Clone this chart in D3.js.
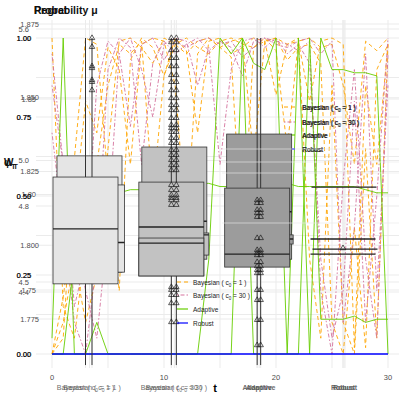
<!DOCTYPE html>
<html>
<head>
<meta charset="utf-8">
<script src="https://cdn.jsdelivr.net/npm/d3@7"></script>
<style>
body { margin: 0; background: #fff; }
svg { font-family: "Liberation Sans", Arial, sans-serif; }
</style>
</head>
<body>
<svg id="chart" width="399" height="399"></svg>
<script>
// ---- data ----
var tSteps = [0,1,2,3,4,5,6,7,8,9,10,11,12,13,14,15,16,17,18,19,20,21,22,23,24,25,26,27,28,29,30];
var methods = ["Bayesian (c0 = 1)", "Bayesian (c0 = 30)", "Adaptive", "Robust"];

// probability traces per run
var bayes1Runs = [
    [0.00,0.05,0.62,1.00,0.98,0.55,0.20,0.93,1.00,0.97,0.88,1.00,0.96,0.70,0.99,1.00,0.95,0.97,1.00,0.99,0.82,0.98,1.00,0.30,0.05,0.85,0.10,0.00,0.65,0.05,0.98],
    [0.00,0.18,0.45,0.80,0.70,0.97,0.90,0.60,0.98,1.00,0.99,0.85,0.40,0.95,1.00,0.97,0.99,1.00,0.62,0.99,1.00,0.93,0.97,0.98,0.92,0.10,0.00,0.40,0.02,0.90,0.98],
    [1.00,0.15,0.05,0.35,0.60,0.85,0.98,0.95,0.99,0.50,0.88,0.98,1.00,0.97,0.95,0.99,1.00,0.98,0.97,1.00,0.96,0.65,0.99,1.00,0.97,0.98,0.85,0.60,0.99,0.96,1.00],
    [0.00,0.10,0.30,0.10,0.25,0.65,0.99,1.00,0.97,0.92,1.00,0.98,0.95,0.99,1.00,0.97,0.94,0.35,0.97,0.99,1.00,0.98,0.99,0.80,0.99,1.00,0.98,0.02,0.85,0.60,0.98]
];
var bayes30Runs = [
    [0.85,0.60,0.40,0.20,0.05,0.40,0.95,1.00,0.90,0.75,0.98,1.00,0.99,0.85,0.97,0.60,0.90,0.99,1.00,0.97,1.00,0.95,0.98,0.92,0.30,0.05,0.20,0.80,0.10,0.50,1.00],
    [0.70,0.40,0.10,0.00,0.30,0.90,1.00,0.97,0.60,0.92,0.99,0.95,0.98,1.00,0.96,0.99,0.97,0.88,0.99,1.00,0.98,0.97,0.99,1.00,0.95,0.99,0.10,0.40,0.95,0.20,0.85],
    [0.95,0.60,0.15,0.30,0.85,0.99,0.95,0.72,0.98,1.00,0.93,0.99,0.97,0.99,1.00,0.98,0.99,0.94,0.97,1.00,0.99,0.98,0.96,0.99,0.20,0.00,0.55,0.90,0.30,0.05,0.95]
];
var adaptiveRuns = [
    [0.05,1.00,0.00,0.00,0.10,0.00,0.00,0.00,0.00,0.00,0.00,0.00,0.00,0.00,0.30,1.00,0.95,1.00,0.00,0.00,0.00,0.00,1.00,0.00,1.00,0.90,0.90,0.89,0.89,0.88,0.00],
    [0.00,0.00,0.30,0.45,0.48,0.50,0.51,0.52,0.52,0.53,0.53,0.53,0.54,0.54,0.54,0.53,0.53,0.54,0.55,0.55,0.55,0.54,0.53,0.53,0.53,0.53,0.53,0.53,0.52,0.51,0.51],
    [0.00,0.00,0.00,0.00,0.00,0.00,0.00,0.00,0.00,0.00,0.00,0.00,0.00,0.00,0.00,0.00,0.00,1.00,0.92,0.90,1.00,0.00,0.00,1.00,0.11,0.11,0.11,0.12,0.10,0.11,0.11]
];
var robustRuns = [
    [0,0,0,0,0,0,0,0,0,0,0,0,0,0,0,0,0,0,0,0,0,0,0,0,0,0,0,0,0,0,0]
];

// box summaries, one row per overlaid layer
var boxStats = [
    {layer: 0, method: "Bayesian (c0 = 1)",  q1: 0.259, med: 0.400, q3: 0.627},
    {layer: 0, method: "Bayesian (c0 = 30)", q1: 0.300, med: 0.420, q3: 0.655},
    {layer: 0, method: "Adaptive",           q1: 0.300, med: 0.450, q3: 0.696},
    {layer: 0, method: "Robust",             q1: 0.528, med: 0.528, q3: 0.528},
    {layer: 2, method: "Bayesian (c0 = 1)",  q1: 0.259, med: 0.353, q3: 0.535},
    {layer: 2, method: "Bayesian (c0 = 30)", q1: 0.313, med: 0.377, q3: 0.383},
    {layer: 2, method: "Adaptive",           q1: 0.348, med: 0.364, q3: 0.377},
    {layer: 2, method: "Robust",             q1: 0.332, med: 0.332, q3: 0.332},
    {layer: 1, method: "Bayesian (c0 = 1)",  q1: 0.222, med: 0.396, q3: 0.560},
    {layer: 1, method: "Bayesian (c0 = 30)", q1: 0.247, med: 0.402, q3: 0.544},
    {layer: 1, method: "Adaptive",           q1: 0.275, med: 0.316, q3: 0.525},
    {layer: 1, method: "Robust",             q1: 0.364, med: 0.364, q3: 0.364},
    {layer: 3, method: "Bayesian (c0 = 30)", q1: 0.247, med: 0.351, q3: 0.367},
    {layer: 3, method: "Robust",             q1: 0.316, med: 0.316, q3: 0.316}
];
var whiskerLo = -0.035, whiskerHi = 1.0;

var outliersBayes1 = [1.00,0.972,0.911,0.905,0.867,0.861,0.835];
var outliersBayes30 = [1.00,0.987,0.962,0.937,0.911,0.883,0.861,0.835,0.810,0.788,0.772,0.747,0.725,0.715,0.703,0.684,0.668,0.646,0.630,0.614,0.598,0.582,0.535,0.519,0.503,0.494,0.487,0.472,0.212,0.203,0.187,0.161,0.101];
var outliersAdaptive = [0.487,0.478,0.456,0.446,0.434,0.367,0.329,0.320,0.313,0.291,0.278,0.266,0.256,0.203,0.171,0.108,0.028];
var outliersRobust = [0.335];

var mainTicks = [0, 0.25, 0.5, 0.75, 1];
var tTicks = [0, 10, 20, 30];
var sideTicksA = [1.775, 1.800, 1.825, 1.850, 1.875];
var sideTicksB = [1.75, 1.80, 1.85];
var sideTicksC = [4.4, 5.0, 5.6];
var sideTicksD = [4.5, 4.8];

// ---- drawing ----
var svg = d3.select("#chart");
var W = 399, H = 399;

var x = d3.scaleLinear().domain([0, 30]).range([52, 388]);
var y = d3.scaleLinear().domain([0, 1]).range([354, 38]);
var yA = d3.scaleLinear().domain([1.775, 1.875]).range([319, 24]);
var yB = d3.scaleLinear().domain([1.75, 1.85]).range([290, 99]);
var yC = d3.scaleLinear().domain([4.4, 5.6]).range([292, 29]);
var yD = d3.scaleLinear().domain([4.5, 4.8]).range([282, 206]);

// one categorical scale per overlaid box layer
var catRanges = [[89.5, 344], [85.5, 343], [92, 345], [85.5, 343]];
var cat = catRanges.map(function(r) {
    return d3.scalePoint().domain(methods).range(r);
});
var boxW = 65;

var colors = {"Bayesian (c0 = 1)": "#FFA500", "Bayesian (c0 = 30)": "#D5739D", "Adaptive": "#66CD00", "Robust": "#0000FF"};
var dashes = {"Bayesian (c0 = 1)": "4,3", "Bayesian (c0 = 30)": "1.5,2,4,2", "Adaptive": null, "Robust": null};
var boxFill = {"Bayesian (c0 = 1)": "#e5e5e5", "Bayesian (c0 = 30)": "#c2c2c2", "Adaptive": "#9c9c9c", "Robust": "#777"};

// grid
var grid = svg.append("g");
var hLines = [];
mainTicks.forEach(function(v) { hLines.push(y(v)); });
[0.125, 0.375, 0.625, 0.875].forEach(function(v) { hLines.push(y(v)); });
sideTicksA.forEach(function(v) { hLines.push(yA(v)); });
sideTicksB.forEach(function(v) { hLines.push(yB(v)); });
sideTicksC.forEach(function(v) { hLines.push(yC(v)); });
sideTicksD.forEach(function(v) { hLines.push(yD(v)); });
grid.selectAll("line.h").data(hLines).enter().append("line")
    .attr("x1", 36).attr("x2", W)
    .attr("y1", function(d) { return d; }).attr("y2", function(d) { return d; })
    .attr("stroke", "#ebebeb").attr("stroke-width", 1);

var vLines = [];
[0, 5, 10, 15, 20, 25, 30].forEach(function(v) { vLines.push(x(v)); });
cat.forEach(function(s) { methods.forEach(function(m) { vLines.push(s(m)); }); });
grid.selectAll("line.v").data(vLines).enter().append("line")
    .attr("x1", function(d) { return d; }).attr("x2", function(d) { return d; })
    .attr("y1", 20).attr("y2", 368)
    .attr("stroke", "#ebebeb").attr("stroke-width", 1);

// traces
var runs = [
    {method: "Bayesian (c0 = 1)", data: bayes1Runs},
    {method: "Bayesian (c0 = 30)", data: bayes30Runs},
    {method: "Adaptive", data: adaptiveRuns},
    {method: "Robust", data: robustRuns}
];
var line = d3.line()
    .x(function(d, i) { return x(tSteps[i]); })
    .y(function(d) { return y(d); });
var traces = svg.append("g");
runs.forEach(function(r) {
    r.data.forEach(function(series) {
        traces.append("path")
            .attr("d", line(series))
            .attr("fill", "none")
            .attr("stroke", colors[r.method])
            .attr("stroke-width", r.method == "Robust" ? 1.3 : 0.9)
            .attr("stroke-dasharray", dashes[r.method]);
    });
});

// legend helper
function legendLabel(g, m, lx, ly) {
    var t = g.append("text").attr("x", lx).attr("y", ly)
        .attr("font-size", 6.5).attr("fill", "#1a1a1a");
    if (m.indexOf("Bayesian") == 0) {
        var c = m.indexOf("30") > 0 ? "30" : "1";
        t.append("tspan").text("Bayesian ( c");
        t.append("tspan").text("0").attr("font-size", 4.5).attr("dy", 2);
        t.append("tspan").text(" = " + c + " )").attr("dy", -2);
    } else {
        t.text(m);
    }
}
function drawLegend(kx, tx, rows, dbl) {
    var g = svg.append("g");
    methods.forEach(function(m, i) {
        g.append("line")
            .attr("x1", kx).attr("x2", kx + 11)
            .attr("y1", rows[i]).attr("y2", rows[i])
            .attr("stroke", colors[m]).attr("stroke-width", 1.2)
            .attr("stroke-dasharray", dashes[m]);
        legendLabel(g, m, tx, rows[i] + 2.5);
        if (dbl) legendLabel(g, m, tx + 0.6, rows[i] + 2.8);
    });
}

drawLegend(284, 302, [107, 122, 135, 149], true);

// boxes, layer by layer
var boxes = svg.append("g");
var layerOrder = [0, 2, 1, 3];
layerOrder.forEach(function(layer) {
    var s = cat[layer];
    var rows = boxStats.filter(function(d) { return d.layer == layer; });
    if (layer == 1 || layer == 2) {
        methods.slice(0, 3).forEach(function(m) {
            boxes.append("line")
                .attr("x1", s(m)).attr("x2", s(m))
                .attr("y1", y(whiskerLo)).attr("y2", y(whiskerHi))
                .attr("stroke", "#333").attr("stroke-width", 1);
        });
    }
    rows.forEach(function(d) {
        var cx = s(d.method);
        boxes.append("rect")
            .attr("x", cx - boxW / 2).attr("width", boxW)
            .attr("y", y(d.q3)).attr("height", Math.max(0, y(d.q1) - y(d.q3)))
            .attr("fill", d.method == "Robust" ? "none" : boxFill[d.method])
            .attr("stroke", "#333").attr("stroke-width", 0.8);
        boxes.append("line")
            .attr("x1", cx - boxW / 2).attr("x2", cx + boxW / 2)
            .attr("y1", y(d.med)).attr("y2", y(d.med))
            .attr("stroke", "#222").attr("stroke-width", 1.4);
    });
});

// light grid of a later layer drawn over the right part
svg.append("g").selectAll("line").data([149, 162, 173, 223]).enter().append("line")
    .attr("x1", 222).attr("x2", W)
    .attr("y1", function(d) { return d; }).attr("y2", function(d) { return d; })
    .attr("stroke", "#ebebeb").attr("stroke-width", 0.8).attr("opacity", 0.8);

// outliers
var tri = d3.symbol().type(d3.symbolTriangle).size(13);
var outlierSets = [
    {method: "Bayesian (c0 = 1)", vals: outliersBayes1, layers: [2]},
    {method: "Bayesian (c0 = 30)", vals: outliersBayes30, layers: [1, 2]},
    {method: "Adaptive", vals: outliersAdaptive, layers: [1, 2]},
    {method: "Robust", vals: outliersRobust, layers: [1]}
];
outlierSets.forEach(function(o) {
    o.layers.forEach(function(layer) {
        svg.append("g").selectAll("path").data(o.vals).enter().append("path")
            .attr("d", tri)
            .attr("transform", function(d) { return "translate(" + cat[layer](o.method) + "," + y(d) + ")"; })
            .attr("fill", "none").attr("stroke", "#1a1a1a").attr("stroke-width", 0.7);
    });
});

drawLegend(177, 193, [282, 295, 309, 323], false);

// axes text
var txt = svg.append("g").attr("font-size", 7.5);
function sideAxis(ticks, scale, right, fmt, color) {
    txt.selectAll(null).data(ticks).enter().append("text")
        .attr("x", right).attr("y", function(d) { return scale(d) + 2.7; })
        .attr("text-anchor", "end").attr("fill", color)
        .text(d3.format(fmt));
}
sideAxis(sideTicksA, yA, 39, ".3f", "#4d4d4d");
sideAxis(sideTicksB, yB, 36, ".2f", "#4d4d4d");
sideAxis(sideTicksC, yC, 29, ".1f", "#4d4d4d");
sideAxis(sideTicksD, yD, 29, ".1f", "#4d4d4d");
sideAxis(mainTicks, y, 31, ".2f", "#111");
sideAxis(mainTicks, y, 31.4, ".2f", "#111");

txt.selectAll(null).data(tTicks).enter().append("text")
    .attr("x", function(d) { return x(d); }).attr("y", 380)
    .attr("text-anchor", "middle").attr("fill", "#4d4d4d")
    .text(function(d) { return d; });

[1, 2].forEach(function(layer) {
    methods.forEach(function(m) {
        var t = txt.append("text")
            .attr("x", cat[layer](m)).attr("y", 390)
            .attr("text-anchor", "middle").attr("font-size", 7)
            .attr("fill", "#555").attr("opacity", 0.85);
        if (m.indexOf("Bayesian") == 0) {
            var c = m.indexOf("30") > 0 ? "30" : "1";
            t.append("tspan").text("Bayesian ( c");
            t.append("tspan").text("0").attr("font-size", 5).attr("dy", 2);
            t.append("tspan").text(" = " + c + " )").attr("dy", -2);
        } else {
            t.text(m).attr("font-weight", "bold");
        }
    });
});

svg.append("text").attr("x", 215).attr("y", 392)
    .attr("text-anchor", "middle").attr("font-size", 11).attr("font-weight", "bold")
    .text("t");

// y titles
["φ", "W"].forEach(function(s) {
    var t = svg.append("text").attr("x", 4).attr("y", 166)
        .attr("font-size", 10).attr("font-weight", "bold").attr("fill", "#111");
    t.append("tspan").text(s);
    t.append("tspan").text("T").attr("font-size", 7).attr("dy", 3);
});

// titles
["Regret", "Probability μ"].forEach(function(s) {
    svg.append("text").attr("x", 34).attr("y", 14)
        .attr("font-size", 10.5).attr("font-weight", "bold").attr("fill", "#111")
        .text(s);
});
</script>
</body>
</html>
